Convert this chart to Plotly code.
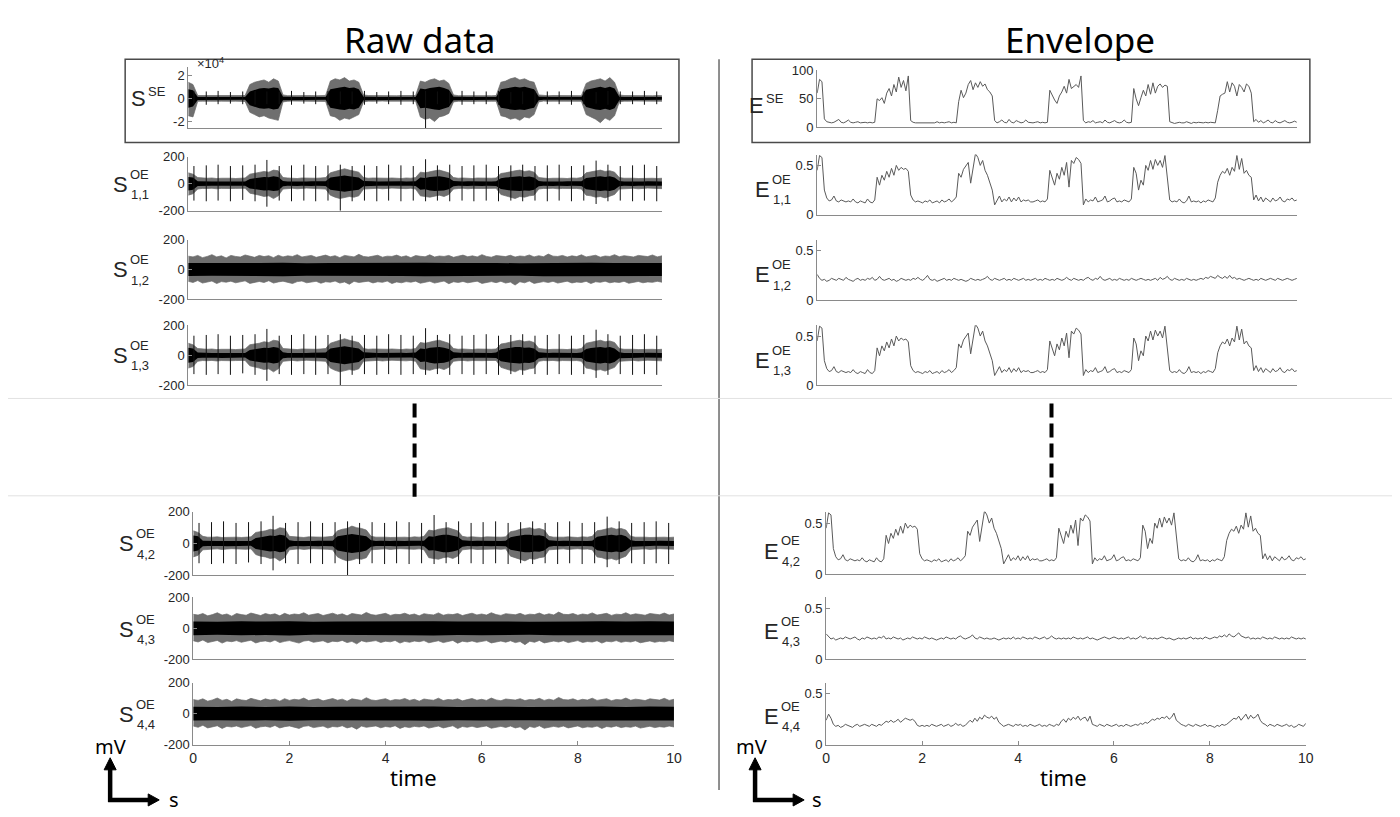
import plotly.graph_objects as go

W, H = 1400, 817

# ---------------- data ----------------
# time step of raw-data amplitude profiles: 0.1 s ; envelopes: 0.05 s
SSE_HI = [14000,12000,2500,
          2500,2200,2600,2400,2300,2500,2400,2600,2300,2500,
          12000,14000,15000,16000,14000,17000,15000,
          3000,
          2400,2500,2300,2600,2400,2500,2300,2400,2600,
          15000,17000,16000,18000,15000,16000,14000,
          3000,
          2500,2400,2300,2600,2500,2400,2300,2500,2400,2600,2500,
          15000,14000,16000,17000,15000,16000,13000,
          3000,
          2400,2500,2600,2300,2400,2500,2400,2300,2500,
          14000,15000,17000,18000,16000,17000,15000,14000,
          3000,
          2400,2300,2500,2400,2600,2300,2400,2500,2400,
          13000,15000,16000,17000,15000,18000,14000,
          3000,
          2500,2400,2300,2500,2600,2400,2300,2500,2400]
SSE_LO = [-15000,-16000,-2500,
          -2400,-2600,-2300,-2500,-2400,-2200,-2500,-2400,-2300,-2600,
          -12000,-14000,-16000,-15000,-17000,-18000,-19000,
          -3000,
          -2500,-2300,-2400,-2600,-2500,-2300,-2400,-2500,-2600,
          -15000,-16000,-19000,-17000,-18000,-16000,-14000,
          -3000,
          -2400,-2500,-2600,-2300,-2400,-2500,-2400,-2600,-2300,-2500,-2400,
          -16000,-18000,-17000,-20000,-16000,-15000,-13000,
          -3000,
          -2500,-2300,-2400,-2600,-2500,-2400,-2300,-2500,-2400,
          -15000,-16000,-18000,-17000,-19000,-16000,-17000,-14000,
          -3000,
          -2300,-2500,-2400,-2600,-2400,-2500,-2300,-2400,-2500,
          -14000,-16000,-18000,-21000,-17000,-19000,-15000,
          -3000,
          -2400,-2500,-2300,-2600,-2400,-2500,-2300,-2400,-2500]
SSE_CORE = [8000,7000,1300,
            1200,1250,1150,1200,1250,1200,1150,1200,1250,1200,
            6000,7500,8500,9000,8500,9500,9000,
            1500,
            1200,1150,1250,1200,1200,1150,1250,1200,1200,
            8000,9000,9500,10000,9000,9500,8000,
            1500,
            1200,1250,1150,1200,1250,1200,1150,1200,1250,1200,1200,
            8500,8000,9000,9500,10000,9000,7500,
            1500,
            1200,1150,1250,1200,1200,1150,1250,1200,1200,
            8000,8500,9500,10000,9500,10000,9000,8000,
            1500,
            1200,1250,1150,1200,1250,1200,1150,1200,1250,
            7500,8500,9500,10000,9000,10000,8500,
            1500,
            1200,1150,1250,1200,1200,1150,1250,1200,1200]

S11_HI = [80,70,45,
          40,40,42,38,40,42,40,38,40,42,
          70,75,80,90,85,100,95,
          45,
          42,40,38,42,40,38,40,42,45,
          80,90,95,110,100,95,85,
          45,
          40,42,40,38,40,42,40,38,42,40,45,
          85,80,90,95,100,90,80,
          45,
          40,42,40,38,42,40,38,40,42,
          75,80,90,95,100,90,95,85,
          45,
          40,38,40,42,40,38,42,40,45,
          80,85,95,100,90,95,85,
          45,
          40,42,40,38,40,42,40,38,40]
S11_LO = [-85,-75,-40,
          -35,-36,-34,-38,-35,-33,-36,-35,-37,-34,
          -70,-80,-85,-95,-90,-110,-90,
          -40,
          -36,-34,-38,-35,-33,-36,-35,-37,-40,
          -85,-100,-110,-105,-95,-100,-90,
          -40,
          -35,-36,-34,-38,-35,-33,-36,-35,-37,-34,-40,
          -90,-95,-100,-90,-85,-95,-80,
          -40,
          -36,-34,-38,-35,-33,-36,-35,-37,-34,
          -80,-90,-100,-110,-95,-100,-90,-85,
          -40,
          -35,-36,-34,-38,-35,-33,-36,-35,-40,
          -85,-90,-100,-95,-105,-90,-80,
          -40,
          -35,-36,-34,-38,-35,-33,-36,-35,-37]
S11_CORE = [50,45,18,
            16,17,15,16,18,16,15,17,16,15,
            35,40,45,50,48,55,50,
            20,
            16,15,17,16,15,17,16,15,18,
            45,50,55,60,55,52,45,
            20,
            16,17,15,16,18,16,15,17,16,15,18,
            45,42,50,55,55,50,42,
            20,
            16,15,17,16,15,17,16,15,18,
            40,45,50,55,55,50,52,45,
            20,
            16,15,17,16,15,17,16,15,18,
            42,48,52,55,50,55,45,
            20,
            16,15,17,16,15,17,16,15,16]

S12_HI = [90,85,95,80,88,100,85,92,78,95, 88,84,98,90,82,95,87,93,80,96,
          85,92,88,100,84,90,95,82,88,97, 86,93,80,95,90,85,102,88,84,92,
          96,83,90,88,97,85,92,80,94,89, 86,99,84,91,88,95,82,90,97,86,
          92,85,100,88,83,94,90,87,96,84, 91,88,98,85,93,86,104,90,88,95,
          84,92,87,99,85,90,96,83,91,88, 100,86,93,89,84,95,90,87,98,85, 92]
S12_LO = [-80,-88,-75,-92,-84,-78,-95,-82,-86,-79, -90,-83,-77,-94,-85,-81,-88,-76,-92,-84,
          -79,-87,-95,-82,-78,-90,-85,-80,-93,-83, -86,-78,-92,-84,-100,-80,-88,-85,-79,-91,
          -83,-87,-78,-95,-84,-90,-82,-86,-79,-93, -85,-80,-92,-87,-78,-96,-83,-88,-81,-90,
          -84,-79,-94,-86,-82,-89,-80,-92,-85,-105, -83,-90,-78,-94,-86,-82,-88,-80,-92,-84,
          -79,-91,-85,-88,-80,-95,-83,-87,-79,-90, -84,-88,-80,-93,-85,-81,-90,-84,-87,-80, -86]
S12_CORE = [44,42,45,43,46,42,44,45,43,44,46,43,45,44,42,45,44,46,43,45,44]   # every 0.5 s

SPIKE_T = [0.12,0.38,0.63,0.89,1.15,1.41,1.66,1.92,2.18,2.44,2.69,2.95,3.21,3.46,3.72,3.98,
           4.23,4.49,4.75,5.01,5.26,5.52,5.78,6.03,6.29,6.55,6.81,7.06,7.32,7.58,7.83,8.09,
           8.35,8.61,8.86,9.12,9.38,9.63,9.89]
SPK_OE_HI = [130,135,140,130,135,140,175,130,135,140,130,135,140,130,135,130,140,135,130,180,
             135,140,130,135,140,130,135,140,130,135,140,130,135,170,140,130,135,140,130]
SPK_OE_LO = [-125,-130,-125,-130,-120,-130,-170,-125,-130,-125,-130,-125,-200,-130,-125,-130,
             -125,-130,-125,-130,-125,-130,-125,-130,-125,-130,-125,-130,-125,-130,-125,-130,
             -125,-150,-130,-125,-130,-125,-130]
SPK_SE_HI = [6500,6000,6500,5500,6000,6500,6000,6000,6500,5500,6000,6500,6000,6000,6500,5500,
             6000,6500,6000,6500,6000,5500,6500,6000,6000,6500,5500,6000,6500,6000,6000,6500,
             6000,5500,6500,6000,6000,6500,6000]
SPK_SE_LO = [-5000,-5500,-5000,-4500,-5000,-5500,-5000,-5000,-5500,-4500,-5000,-5500,-5000,-5000,
             -5500,-4500,-5000,-5500,-5000,-26000,-5000,-4500,-5500,-5000,-5000,-5500,-4500,-5000,
             -5500,-5000,-5000,-5500,-5000,-4500,-5500,-5000,-5000,-5500,-5000]

E_SE = [60,84,80,15,
        10,9,8,9,11,14,9,8,10,13,9,8,9,10,8,9,9,8,9,8,9,
        50,47,52,42,60,68,55,75,62,88,70,82,64,90,
        12,
        9,8,8,9,8,8,9,8,9,8,10,8,9,8,9,10,8,9,8,
        45,65,52,60,75,82,66,78,70,80,72,76,66,62,55,
        12,
        8,10,13,9,8,14,9,8,12,10,8,9,13,9,8,8,9,10,8,9,8,9,
        65,55,48,42,55,62,72,60,84,68,72,75,70,90,
        12,
        8,10,9,12,8,9,10,8,13,9,8,10,12,9,8,9,13,9,8,9,
        68,50,38,52,65,55,75,58,78,60,72,76,70,74,72,
        10,
        8,7,8,9,8,8,10,8,7,9,8,9,8,8,9,8,9,8,8,
        30,55,58,60,80,62,78,72,55,75,70,62,76,72,60,
        10,
        14,9,12,8,10,13,9,8,12,9,8,10,12,9,8,9,11,9]

E_11 = [0.45,0.6,0.58,0.25,
        0.17,0.14,0.15,0.19,0.14,0.13,0.15,0.14,0.13,0.14,0.13,0.16,0.13,0.12,0.14,0.13,0.12,0.16,0.13,0.12,0.15,
        0.38,0.3,0.4,0.35,0.44,0.38,0.47,0.4,0.5,0.45,0.48,0.46,0.47,0.44,
        0.2,
        0.15,0.13,0.14,0.13,0.12,0.14,0.13,0.15,0.12,0.13,0.14,0.12,0.15,0.13,0.14,0.16,0.13,0.15,0.18,
        0.42,0.38,0.46,0.5,0.53,0.32,0.5,0.62,0.58,0.5,0.55,0.45,0.4,0.32,0.25,
        0.1,
        0.14,0.19,0.13,0.16,0.14,0.18,0.13,0.17,0.14,0.18,0.13,0.15,0.14,0.15,0.13,0.13,0.14,0.15,0.13,0.14,0.13,0.16,
        0.45,0.38,0.3,0.42,0.36,0.48,0.4,0.53,0.28,0.55,0.52,0.58,0.56,0.52,
        0.1,
        0.16,0.13,0.15,0.14,0.18,0.13,0.14,0.15,0.19,0.13,0.14,0.16,0.17,0.13,0.14,0.13,0.15,0.14,0.13,0.16,
        0.48,0.42,0.25,0.35,0.3,0.5,0.45,0.55,0.46,0.56,0.5,0.55,0.48,0.6,0.4,
        0.15,
        0.13,0.14,0.13,0.16,0.13,0.12,0.14,0.19,0.13,0.14,0.13,0.14,0.12,0.14,0.13,0.15,0.14,0.13,0.17,
        0.33,0.4,0.44,0.42,0.47,0.4,0.48,0.44,0.6,0.46,0.57,0.42,0.45,0.4,0.38,
        0.15,
        0.2,0.14,0.18,0.13,0.17,0.15,0.13,0.17,0.14,0.15,0.18,0.14,0.13,0.16,0.15,0.17,0.14,0.15]
E_13 = list(E_11)   # identical in the picture
E_42 = list(E_11)   # identical in the picture

E_12 = [0.26,0.22,0.2,0.21,0.19,0.2,0.22,0.21,0.2,0.22,
        0.21,0.2,0.23,0.21,0.2,0.19,0.21,0.22,0.2,0.21,
        0.2,0.22,0.21,0.23,0.2,0.21,0.24,0.21,0.2,0.21,
        0.22,0.2,0.21,0.19,0.2,0.22,0.21,0.2,0.21,0.2,
        0.22,0.21,0.23,0.21,0.2,0.22,0.25,0.21,0.2,0.21,
        0.19,0.2,0.21,0.22,0.2,0.21,0.2,0.22,0.21,0.2,
        0.21,0.2,0.19,0.2,0.22,0.21,0.2,0.21,0.2,0.21,
        0.22,0.24,0.21,0.2,0.22,0.21,0.2,0.21,0.22,0.2,
        0.21,0.2,0.22,0.21,0.2,0.21,0.22,0.2,0.21,0.2,
        0.21,0.22,0.2,0.21,0.2,0.22,0.21,0.2,0.21,0.2,
        0.22,0.21,0.2,0.21,0.23,0.21,0.2,0.22,0.21,0.2,
        0.21,0.2,0.22,0.23,0.21,0.2,0.22,0.21,0.24,0.21,
        0.2,0.21,0.22,0.2,0.21,0.2,0.22,0.21,0.2,0.21,
        0.2,0.22,0.21,0.2,0.21,0.22,0.21,0.2,0.21,0.2,
        0.21,0.22,0.2,0.23,0.21,0.22,0.24,0.21,0.2,0.22,
        0.21,0.2,0.21,0.2,0.22,0.21,0.2,0.21,0.2,0.21,
        0.22,0.21,0.23,0.22,0.24,0.23,0.22,0.25,0.23,0.22,
        0.24,0.22,0.25,0.22,0.23,0.21,0.22,0.21,0.2,0.21,
        0.22,0.21,0.2,0.21,0.2,0.22,0.21,0.2,0.21,0.22,
        0.21,0.2,0.22,0.21,0.2,0.21,0.22,0.21,0.2,0.21,
        0.22]
E_43 = [0.25,0.22,0.2,0.21,0.19,0.2,0.21,0.2,0.22,0.21,
        0.2,0.21,0.22,0.2,0.19,0.21,0.2,0.22,0.21,0.2,
        0.21,0.2,0.22,0.21,0.23,0.2,0.21,0.2,0.22,0.21,
        0.2,0.21,0.19,0.2,0.21,0.2,0.22,0.21,0.2,0.21,
        0.2,0.22,0.21,0.2,0.21,0.2,0.19,0.2,0.21,0.2,
        0.22,0.21,0.2,0.21,0.2,0.22,0.23,0.21,0.2,0.21,
        0.22,0.24,0.21,0.2,0.22,0.21,0.2,0.21,0.2,0.2,
        0.21,0.2,0.19,0.2,0.21,0.2,0.21,0.2,0.22,0.2,
        0.21,0.2,0.22,0.21,0.2,0.21,0.2,0.22,0.21,0.2,
        0.21,0.22,0.2,0.21,0.23,0.21,0.2,0.21,0.2,0.21,
        0.2,0.21,0.2,0.22,0.21,0.2,0.21,0.2,0.21,0.22,
        0.2,0.21,0.2,0.19,0.2,0.21,0.22,0.21,0.2,0.21,
        0.22,0.21,0.2,0.21,0.2,0.21,0.22,0.2,0.21,0.2,
        0.21,0.23,0.21,0.22,0.2,0.21,0.2,0.21,0.2,0.21,
        0.22,0.21,0.2,0.21,0.2,0.19,0.2,0.21,0.2,0.21,
        0.2,0.21,0.22,0.2,0.21,0.2,0.21,0.2,0.22,0.21,
        0.2,0.21,0.22,0.21,0.23,0.22,0.24,0.22,0.25,0.23,
        0.22,0.24,0.26,0.23,0.22,0.21,0.22,0.2,0.21,0.2,
        0.21,0.2,0.22,0.21,0.2,0.21,0.2,0.22,0.21,0.2,
        0.21,0.2,0.21,0.2,0.22,0.21,0.2,0.21,0.2,0.21,
        0.2]
E_44 = [0.24,0.3,0.26,0.2,0.18,0.19,0.17,0.18,0.2,0.19,
        0.18,0.17,0.19,0.2,0.18,0.19,0.2,0.19,0.18,0.2,
        0.19,0.18,0.2,0.19,0.21,0.23,0.22,0.24,0.22,0.23,
        0.25,0.22,0.24,0.26,0.25,0.24,0.25,0.23,0.19,0.18,
        0.19,0.18,0.19,0.18,0.2,0.19,0.18,0.19,0.2,0.18,
        0.19,0.2,0.18,0.19,0.21,0.19,0.2,0.18,0.19,0.22,
        0.24,0.22,0.26,0.23,0.27,0.25,0.29,0.27,0.26,0.28,
        0.25,0.27,0.22,0.2,0.18,0.19,0.2,0.19,0.18,0.2,
        0.19,0.2,0.18,0.19,0.18,0.2,0.19,0.18,0.19,0.2,
        0.18,0.19,0.18,0.2,0.19,0.18,0.2,0.19,0.23,0.25,
        0.22,0.26,0.24,0.27,0.25,0.28,0.24,0.26,0.27,0.23,
        0.28,0.2,0.19,0.18,0.2,0.19,0.18,0.2,0.19,0.18,
        0.19,0.2,0.18,0.19,0.18,0.2,0.19,0.18,0.19,0.2,
        0.19,0.21,0.2,0.22,0.21,0.23,0.25,0.24,0.26,0.25,
        0.27,0.26,0.28,0.25,0.27,0.31,0.24,0.22,0.2,0.19,
        0.18,0.2,0.19,0.18,0.2,0.19,0.18,0.19,0.2,0.18,
        0.19,0.18,0.17,0.19,0.18,0.2,0.19,0.2,0.22,0.24,
        0.26,0.25,0.28,0.24,0.27,0.3,0.25,0.29,0.26,0.27,
        0.3,0.24,0.21,0.2,0.18,0.2,0.19,0.18,0.2,0.19,
        0.18,0.19,0.2,0.18,0.19,0.17,0.18,0.2,0.19,0.18,
        0.21]

X_TICKS = [0, 2, 4, 6, 8, 10]

# ---------------- helpers: reference pixel -> paper ----------------
SX, SY = 0.99, 0.978

def fx(p):
    return (W - (W - p) / SX) / W

def fy(p):
    return 1 - (H - (H - p) / SY) / H

fig = go.Figure()
layout_axes = {}

AXCOL = "#8a8a8a"
TXT = "#262626"
TICKFONT = dict(family="Liberation Sans, Arial, sans-serif", size=13, color=TXT)

def make_axes(n, x0, x1, ytop, ybot, yrange, tickvals, ticktext, bottom):
    xa = dict(domain=[fx(x0), fx(x1)], anchor=f"y{n}", range=[0, 10], showline=True,
              linecolor=AXCOL, linewidth=1, showgrid=False, zeroline=False,
              tickvals=X_TICKS, showticklabels=bottom, ticks="inside" if bottom else "",
              ticklen=4, tickcolor=AXCOL, tickfont=dict(TICKFONT, size=14), fixedrange=True)
    ya = dict(domain=[fy(ybot), fy(ytop)], anchor=f"x{n}", range=yrange, showline=True,
              linecolor=AXCOL, linewidth=1, showgrid=False, zeroline=False,
              tickvals=tickvals, ticktext=ticktext, ticks="inside", ticklen=4,
              tickcolor=AXCOL, tickfont=TICKFONT, fixedrange=True)
    sfx = "" if n == 1 else str(n)
    layout_axes["xaxis" + sfx] = xa
    layout_axes["yaxis" + sfx] = ya

def refs(n):
    return ("x" if n == 1 else f"x{n}"), ("y" if n == 1 else f"y{n}")

def add_raw(n, hi, lo, core, core_dt, spk_hi, spk_lo):
    xr, yr = refs(n)
    t = [i * 0.1 for i in range(len(hi))]
    fig.add_trace(go.Scatter(x=t + t[::-1], y=hi + lo[::-1], mode="lines", fill="toself",
                             fillcolor="rgba(95,95,95,0.9)", line=dict(width=0.7, color="#6a6a6a"),
                             xaxis=xr, yaxis=yr, hoverinfo="skip"))
    tc = [i * core_dt for i in range(len(core))]
    fig.add_trace(go.Scatter(x=tc + tc[::-1], y=core + [-v for v in core[::-1]], mode="lines",
                             fill="toself", fillcolor="black", line=dict(width=0),
                             xaxis=xr, yaxis=yr, hoverinfo="skip"))
    xs, ys = [], []
    for tt, h, l in zip(SPIKE_T, spk_hi, spk_lo):
        xs += [tt, tt, None]
        ys += [l, h, None]
    fig.add_trace(go.Scatter(x=xs, y=ys, mode="lines", line=dict(width=1, color="#111"),
                             xaxis=xr, yaxis=yr, hoverinfo="skip"))

def add_env(n, vals):
    xr, yr = refs(n)
    t = [i * 0.05 for i in range(len(vals))]
    fig.add_trace(go.Scatter(x=t, y=vals, mode="lines", line=dict(width=1, color="#5a5a5a"),
                             xaxis=xr, yaxis=yr, hoverinfo="skip"))

RAW_T = [-200, 0, 200]
RAW_L = ["-200", "0", "200"]
ENV_T = [0, 0.5]
ENV_L = ["0", "0.5"]
ERANGE = [0, 0.61]
NOSPK = [0] * len(SPIKE_T)

# left column
make_axes(1, 190, 663, 70, 131, [-26000, 27000], [-20000, 0, 20000], ["-2", "0", "2"], False)
add_raw(1, SSE_HI, SSE_LO, SSE_CORE, 0.1, SPK_SE_HI, SPK_SE_LO)
make_axes(2, 190, 663, 159, 213, [-200, 200], RAW_T, RAW_L, False)
add_raw(2, S11_HI, S11_LO, S11_CORE, 0.1, SPK_OE_HI, SPK_OE_LO)
make_axes(3, 190, 663, 242, 301, [-200, 200], RAW_T, RAW_L, False)
add_raw(3, S12_HI, S12_LO, S12_CORE, 0.5, NOSPK, NOSPK)
make_axes(4, 190, 663, 327, 387, [-200, 200], RAW_T, RAW_L, False)
add_raw(4, S11_HI, S11_LO, S11_CORE, 0.1, SPK_OE_HI, SPK_OE_LO)
make_axes(5, 195, 675, 513, 576, [-200, 200], RAW_T, RAW_L, False)
add_raw(5, S11_HI, S11_LO, S11_CORE, 0.1, SPK_OE_HI, SPK_OE_LO)
make_axes(6, 195, 675, 598, 660, [-200, 200], RAW_T, RAW_L, False)
add_raw(6, S12_HI, S12_LO, S12_CORE, 0.5, NOSPK, NOSPK)
make_axes(7, 195, 675, 683, 745, [-200, 200], RAW_T, RAW_L, True)
add_raw(7, S12_HI, S12_LO, S12_CORE, 0.5, NOSPK, NOSPK)

# right column
make_axes(8, 818, 1297, 73, 130, [0, 100], [0, 50, 100], ["0", "50", "100"], False)
add_env(8, E_SE)
make_axes(9, 818, 1297, 157, 217, ERANGE, ENV_T, ENV_L, False)
add_env(9, E_11)
make_axes(10, 818, 1297, 242, 302, ERANGE, ENV_T, ENV_L, False)
add_env(10, E_12)
make_axes(11, 818, 1297, 327, 387, ERANGE, ENV_T, ENV_L, False)
add_env(11, E_13)
make_axes(12, 827, 1306, 513, 575, ERANGE, ENV_T, ENV_L, False)
add_env(12, E_42)
make_axes(13, 827, 1306, 598, 660, ERANGE, ENV_T, ENV_L, False)
add_env(13, E_43)
make_axes(14, 827, 1306, 683, 745, ERANGE, ENV_T, ENV_L, True)
add_env(14, E_44)

# ---------------- annotations ----------------
ann = []
LBL = "Liberation Sans, Arial, sans-serif"
TITLEF = "Noto Sans, Open Sans, sans-serif"

def txt(x, y, s, size, family=LBL, xanchor="center", color=TXT):
    ann.append(dict(x=fx(x), y=fy(y), xref="paper", yref="paper", text=s, showarrow=False,
                    xanchor=xanchor, yanchor="middle", font=dict(family=family, size=size, color=color)))

def title(x, s):
    ann.append(dict(x=fx(x), y=1.0, xref="paper", yref="paper", text=s, showarrow=False,
                    xanchor="center", yanchor="top", borderpad=0,
                    font=dict(family=TITLEF, size=35, color="black")))

def sym(xc, yc, letter, sup, sub=None):
    txt(xc, yc, letter, 22)
    if sub is None:
        txt(xc + 8, yc - 7, sup, 13, xanchor="left")
    else:
        txt(xc + 8, yc - 10, sup, 13, xanchor="left")
        txt(xc + 9, yc + 10, sub, 13, xanchor="left")

title(421, "Raw data")
title(1080, "Envelope")
txt(415, 777, "time", 22, TITLEF, color="black")
txt(1064, 777, "time", 22, TITLEF, color="black")
txt(112, 747, "mV", 20, TITLEF, color="black")
txt(176, 800, "s", 20, TITLEF, color="black")
txt(752, 747, "mV", 20, TITLEF, color="black")
txt(818, 800, "s", 20, TITLEF, color="black")
txt(197, 66, "×10<sup>4</sup>", 13, xanchor="left")

sym(140, 101, "S", "SE")
sym(122, 187, "S", "OE", "1,1")
sym(122, 272, "S", "OE", "1,2")
sym(122, 357, "S", "OE", "1,3")
sym(128, 545, "S", "OE", "4,2")
sym(128, 630, "S", "OE", "4,3")
sym(128, 715, "S", "OE", "4,4")
sym(757, 108, "E", "SE")
sym(763, 192, "E", "OE", "1,1")
sym(763, 277, "E", "OE", "1,2")
sym(763, 362, "E", "OE", "1,3")
sym(772, 552, "E", "OE", "4,2")
sym(772, 632, "E", "OE", "4,3")
sym(772, 717, "E", "OE", "4,4")

# ---------------- shapes ----------------
shapes = []

def line(x0, y0, x1, y1, color, width, dash=None):
    d = dict(type="line", xref="paper", yref="paper", x0=fx(x0), y0=fy(y0), x1=fx(x1), y1=fy(y1),
             line=dict(color=color, width=width))
    if dash:
        d["line"]["dash"] = dash
    shapes.append(d)

def rect(x0, y0, x1, y1):
    shapes.append(dict(type="rect", xref="paper", yref="paper", x0=fx(x0), y0=fy(y1), x1=fx(x1), y1=fy(y0),
                       line=dict(color="#4a4a4a", width=1.5), fillcolor="rgba(0,0,0,0)"))

def tri(pts):
    p = "M " + " L ".join(f"{fx(a)},{fy(b)}" for a, b in pts) + " Z"
    shapes.append(dict(type="path", xref="paper", yref="paper", path=p, fillcolor="black",
                       line=dict(color="black", width=1)))

rect(127, 62, 680, 145)
rect(753, 62, 1310, 145)
line(720, 62, 720, 790, "#6a6a6a", 1.5)
line(0, 400, 1400, 400, "#e2e2e2", 1)
line(5, 497, 1400, 497, "#e2e2e2", 1)
line(416, 405, 416, 498, "black", 4, "14px,6px")
line(1052, 405, 1052, 498, "black", 4, "14px,6px")

# scale arrows
for ox, tip_x in ((112, 161), (756, 805)):
    line(ox, 802, ox, 768, "black", 4.5)
    tri([(ox - 6, 770), (ox + 6, 770), (ox, 758)])
    line(ox - 2, 800, tip_x - 10, 800, "black", 4.5)
    tri([(tip_x - 11, 794), (tip_x - 11, 806), (tip_x, 800)])

fig.update_layout(width=W, height=H, margin=dict(l=0, r=0, t=0, b=0), paper_bgcolor="white",
                  plot_bgcolor="white", showlegend=False, annotations=ann, shapes=shapes,
                  **layout_axes)

fig.write_html("out.html")
